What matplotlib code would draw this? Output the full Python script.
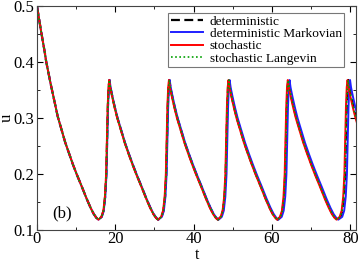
import numpy as np
import matplotlib.pyplot as plt
from matplotlib.ticker import MultipleLocator

plt.rcParams['font.family'] = ['Liberation Serif', 'DejaVu Serif']

# first relaxation from u(0)=0.5
first_t = [0, 0.5, 1.0, 1.5, 2.0, 2.35, 3.0, 3.5, 4.0, 4.65, 5.3, 6.2, 7.2, 8.2,
           9.2, 10.2, 11.5, 12.7, 13.7, 14.5, 15.2, 15.7]
first_u = [0.500, 0.478, 0.457, 0.437, 0.417, 0.401, 0.378, 0.361, 0.345, 0.324,
           0.303, 0.281, 0.257, 0.237, 0.217, 0.199, 0.177, 0.156, 0.140, 0.129,
           0.122, 0.119]

# shape of one spike, relative to its peak time
rise_dt = [-2.0, -1.5, -1.1, -0.8, -0.6, -0.4, -0.2, 0.0]
rise_u = [0.124, 0.135, 0.160, 0.200, 0.260, 0.320, 0.355, 0.368]
decay_dt = [0.25, 0.75, 1.4, 2.05, 2.95, 3.95, 4.95, 5.95, 6.95, 8.25, 9.45,
            10.45, 11.25, 11.95, 12.45]
decay_u = [0.355, 0.338, 0.318, 0.300, 0.279, 0.256, 0.236, 0.217, 0.199, 0.177,
           0.156, 0.140, 0.129, 0.122, 0.119]

# peak times of each curve
peaks_det = [18.5, 33.8, 49.0, 64.2, 79.5]
peaks_mark = [18.55, 33.9, 49.2, 64.5, 79.95]
peaks_stoch = [18.45, 33.7, 48.9, 64.05, 79.3]
peaks_lang = [18.5, 33.8, 49.0, 64.2, 79.45]


def build(peaks):
    t = list(first_t)
    u = list(first_u)
    for p in peaks:
        t += [p + d for d in rise_dt] + [p + d for d in decay_dt]
        u += rise_u + decay_u
    return np.array(t), np.array(u)


fig = plt.figure(figsize=(3.59, 2.62), dpi=100)
ax = fig.add_axes([0.103, 0.121, 0.889, 0.856])

t, u = build(peaks_det)
ax.plot(t, u, color='k', ls=(0, (4, 2)), lw=1.6, label='deterministic')
t, u = build(peaks_mark)
ax.plot(t, u, color='#1f1fff', lw=1.4, label='deterministic Markovian')
t, u = build(peaks_stoch)
ax.plot(t, u, color='#ff0000', lw=1.4, label='stochastic')
t, u = build(peaks_lang)
ax.plot(t, u, color='#00a000', ls=(0, (1, 1.5)), lw=1.2, label='stochastic Langevin')

ax.set_xlim(0, 81.5)
ax.set_ylim(0.1, 0.5)
ax.xaxis.set_major_locator(MultipleLocator(20))
ax.xaxis.set_minor_locator(MultipleLocator(10))
ax.yaxis.set_major_locator(MultipleLocator(0.1))
ax.yaxis.set_minor_locator(MultipleLocator(0.05))
ax.tick_params(which='both', direction='in', top=True, right=True, labelsize=12, pad=2)
ax.tick_params(axis='x', which='both', pad=0.5)
ax.tick_params(which='major', length=4)
ax.tick_params(which='minor', length=2.5)
for s in ax.spines.values():
    s.set_color('#444444')
ax.set_xlabel('t', fontsize=11.5, labelpad=0)
ax.set_ylabel('u', fontsize=12, labelpad=-1)

ax.text(6.4, 0.13, '(b)', fontsize=12, ha='center', va='center')

leg = ax.legend(loc='upper right', fontsize=9.6, frameon=True, fancybox=False,
                edgecolor='#555555', handlelength=2.4, handletextpad=0.5,
                borderpad=0.2, labelspacing=0.0, borderaxespad=0.0,
                bbox_to_anchor=(0.963, 0.97))
leg.get_frame().set_linewidth(0.8)

fig.savefig('out.png', dpi=100)
